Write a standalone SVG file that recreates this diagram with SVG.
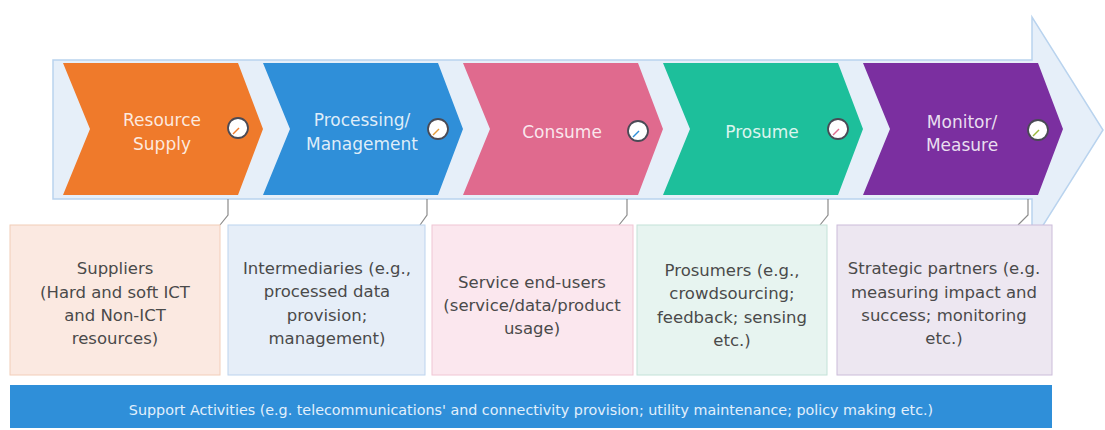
<svg xmlns="http://www.w3.org/2000/svg" width="1105" height="430" viewBox="0 0 1105 430">
<defs>
<style>
.title{font-family:"DejaVu Sans",Verdana,sans-serif;font-size:17px;fill:#ffffff;fill-opacity:0.85;text-anchor:middle}
.box{stroke-width:1}
.btxt{font-family:"DejaVu Sans",Verdana,sans-serif;font-size:16.5px;fill:#4a4a4a;text-anchor:middle}
.dot{fill:#ffffff;stroke:#4a4a55;stroke-width:1.8}
.conn{fill:none;stroke:#8c8c8c;stroke-width:1.2}
.sup{font-family:"DejaVu Sans",Verdana,sans-serif;font-size:14.3px;fill:#e2f0fc;text-anchor:middle}
</style>
</defs>
<rect width="1105" height="430" fill="#ffffff"/>
<g id="backbone">
<polygon points="53,60 1032,60 1032,17 1103,130 1032,243 1032,199 53,199" fill="#e6eff9" stroke="#b9d3ee" stroke-width="1.5"/>
</g>
<g id="stage-resource">
<polygon points="63,63 238,63 263,129 238,195 63,195 90,129" fill="#ef7a2b"/>
<text class="title" x="162" y="126">Resource</text>
<text class="title" x="162" y="150">Supply</text>
<circle class="dot" cx="238" cy="128" r="10"/>
<line x1="233" y1="134" x2="239" y2="128" stroke="#ef7a2b" stroke-width="1.5"/>
</g>
<g id="stage-processing">
<polygon points="263,63 438,63 463,129 438,195 263,195 290,129" fill="#2f8fd9"/>
<text class="title" x="362" y="126">Processing/</text>
<text class="title" x="362" y="150">Management</text>
<circle class="dot" cx="438" cy="129" r="10"/>
<line x1="433" y1="135" x2="439" y2="129" stroke="#e39a3a" stroke-width="1.5"/>
</g>
<g id="stage-consume">
<polygon points="463,63 638,63 663,129 638,195 463,195 490,129" fill="#e06a8e"/>
<text class="title" x="562" y="138">Consume</text>
<circle class="dot" cx="638" cy="131" r="10"/>
<line x1="633" y1="137" x2="639" y2="131" stroke="#2f8fd9" stroke-width="1.5"/>
</g>
<g id="stage-prosume">
<polygon points="663,63 838,63 863,129 838,195 663,195 690,129" fill="#1dbf9b"/>
<text class="title" x="762" y="138">Prosume</text>
<circle class="dot" cx="838" cy="129" r="10"/>
<line x1="833" y1="135" x2="839" y2="129" stroke="#e06a8e" stroke-width="1.5"/>
</g>
<g id="stage-monitor">
<polygon points="863,63 1038,63 1063,129 1038,195 863,195 890,129" fill="#7b2fa0"/>
<text class="title" x="962" y="128">Monitor/</text>
<text class="title" x="962" y="151">Measure</text>
<circle class="dot" cx="1038" cy="130" r="10"/>
<line x1="1033" y1="136" x2="1039" y2="130" stroke="#9ab83a" stroke-width="1.5"/>
</g>
<g id="connectors">
<polyline class="conn" points="228,199 228,215 220,225"/>
<polyline class="conn" points="427,199 427,215 420,225"/>
<polyline class="conn" points="627,199 627,215 619,225"/>
<polyline class="conn" points="828,199 828,215 820,225"/>
<polyline class="conn" points="1028,199 1028,215 1018,225"/>
</g>
<g id="box-suppliers">
<rect class="box" x="10" y="225" width="210" height="150" fill="#fbe9e1" stroke="#f2cdb8"/>
<text class="btxt" x="115" y="274">Suppliers</text>
<text class="btxt" x="115" y="298">(Hard and soft ICT</text>
<text class="btxt" x="115" y="321">and Non-ICT</text>
<text class="btxt" x="115" y="344">resources)</text>
</g>
<g id="box-intermediaries">
<rect class="box" x="228" y="225" width="197" height="150" fill="#e6eef8" stroke="#bcd3ee"/>
<text class="btxt" x="327" y="274">Intermediaries (e.g.,</text>
<text class="btxt" x="327" y="297">processed data</text>
<text class="btxt" x="327" y="321">provision;</text>
<text class="btxt" x="327" y="344">management)</text>
</g>
<g id="box-endusers">
<rect class="box" x="432" y="225" width="201" height="150" fill="#fbe7ee" stroke="#f0c6d4"/>
<text class="btxt" x="532" y="288">Service end-users</text>
<text class="btxt" x="532" y="311">(service/data/product</text>
<text class="btxt" x="532" y="334">usage)</text>
</g>
<g id="box-prosumers">
<rect class="box" x="637" y="225" width="190" height="150" fill="#e7f4f0" stroke="#c3e2d8"/>
<text class="btxt" x="732" y="276">Prosumers (e.g.,</text>
<text class="btxt" x="732" y="299">crowdsourcing;</text>
<text class="btxt" x="732" y="323">feedback; sensing</text>
<text class="btxt" x="732" y="346">etc.)</text>
</g>
<g id="box-partners">
<rect class="box" x="837" y="225" width="215" height="150" fill="#ede7f1" stroke="#cbbcd9"/>
<text class="btxt" x="944" y="274">Strategic partners (e.g.</text>
<text class="btxt" x="944" y="298">measuring impact and</text>
<text class="btxt" x="944" y="321">success; monitoring</text>
<text class="btxt" x="944" y="344">etc.)</text>
</g>
<g id="support">
<rect x="10" y="385" width="1042" height="43" fill="#2f8fd9"/>
<text class="sup" x="531" y="415">Support Activities (e.g. telecommunications' and connectivity provision; utility maintenance; policy making etc.)</text>
</g>
</svg>
